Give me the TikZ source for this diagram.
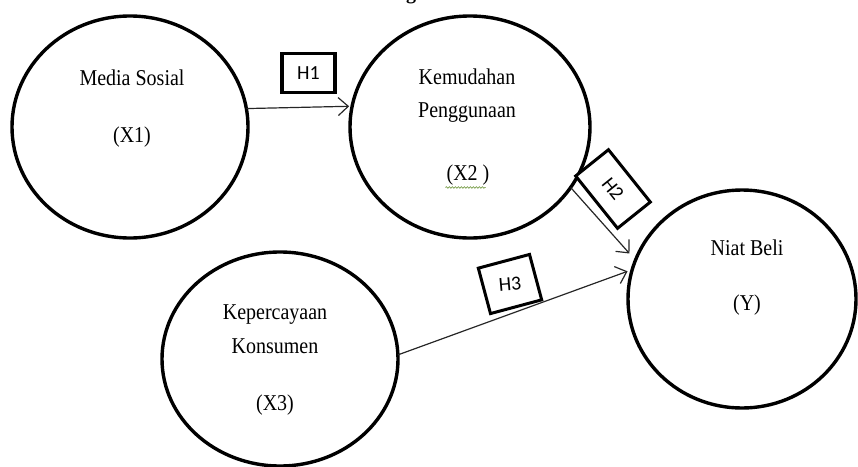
\documentclass[tikz,border=0pt]{standalone}
\usepackage{fontspec}
\setmainfont{Liberation Serif}
\newfontfamily\hfont{Carlito}
\usetikzlibrary{shapes.geometric,arrows.meta,decorations.pathmorphing}
\begin{document}
\begin{tikzpicture}[x=1pt,y=-1pt,
  var/.style={ellipse, draw, line width=3.4pt, inner sep=0pt, outer sep=0pt},
  lbl/.style={font=\fontsize{20}{22}\selectfont, inner sep=0pt},
  hbox/.style={draw, rectangle, inner sep=0pt, outer sep=0pt, fill=white,
               font=\hfont\fontsize{20}{22}\selectfont},
  arr/.style={line width=1.2pt, draw=black!85,
              -{Straight Barb[length=10pt,width=18pt,line width=1.2pt]}}
]
\useasboundingbox (0,0) rectangle (858,466);

% cut-off title
\begin{scope}
  \clip (0,0) rectangle (858,466);
  \node[font=\bfseries\fontsize{20}{22}\selectfont, anchor=base, inner sep=0pt] (gtitle) at (411,-0.5) {g};
\end{scope}

% variables
\node[var, minimum width=236pt, minimum height=222pt] (x1) at (130,127) {};
\node[var, minimum width=240pt, minimum height=222pt] (x2) at (470,127) {};
\node[var, minimum width=236pt, minimum height=214pt] (x3) at (280,359) {};
\node[var, minimum width=228pt, minimum height=218pt] (y)  at (742,299) {};

% texts
\node[lbl] (t1a) at (132,78)  {\scalebox{1}[1.13]{Media Sosial}};
\node[lbl] (t1b) at (132,137) {\scalebox{1}[1.13]{(X1)}};
\node[lbl] (t2a) at (467,77)  {\scalebox{1}[1.13]{Kemudahan}};
\node[lbl] (t2b) at (467,113) {\scalebox{1}[1.13]{Penggunaan}};
\node[lbl] (t2c) at (468,175) {\scalebox{1}[1.13]{(X2 )}};
\node[lbl] (t3a) at (275,315) {\scalebox{1}[1.13]{Kepercayaan}};
\node[lbl] (t3b) at (275,346) {\scalebox{1}[1.13]{Konsumen}};
\node[lbl] (t3c) at (275,405) {\scalebox{1}[1.13]{(X3)}};
\node[lbl] (tya) at (747,248) {\scalebox{1}[1.13]{Niat Beli}};
\node[lbl] (tyb) at (747,305) {\scalebox{1}[1.13]{(Y)}};

% spell-check squiggle under (X2 )
\draw[decorate, decoration={snake, amplitude=0.8pt, segment length=3pt},
      color={rgb,255:red,110;green,150;blue,60}, line width=0.6pt]
  ([xshift=-1pt,yshift=-2pt]t2c.south west) -- ([xshift=-4pt,yshift=-2pt]t2c.south east);

% connectors
\draw[arr, shorten >=3pt] (x1.9.3) -- (x2.170.9);
\draw[arr, shorten >=9pt] (x2.-31.4) -- (y.160.4);
\draw[arr, shorten >=5pt] (x3.2) -- (y.165.8);

% hypothesis boxes
\node[hbox, line width=3.8pt, minimum width=53pt, minimum height=39pt] (h1) at (308.5,73) {H1};
\node[hbox, line width=3pt, rotate=-51.3, minimum width=67pt, minimum height=42pt] (h2) at (613,189) {H2};
\node[hbox, line width=3pt, rotate=15, minimum width=53pt, minimum height=47pt] (h3) at (510,284) {\rotatebox{-10}{H3}};
\end{tikzpicture}
\end{document}
